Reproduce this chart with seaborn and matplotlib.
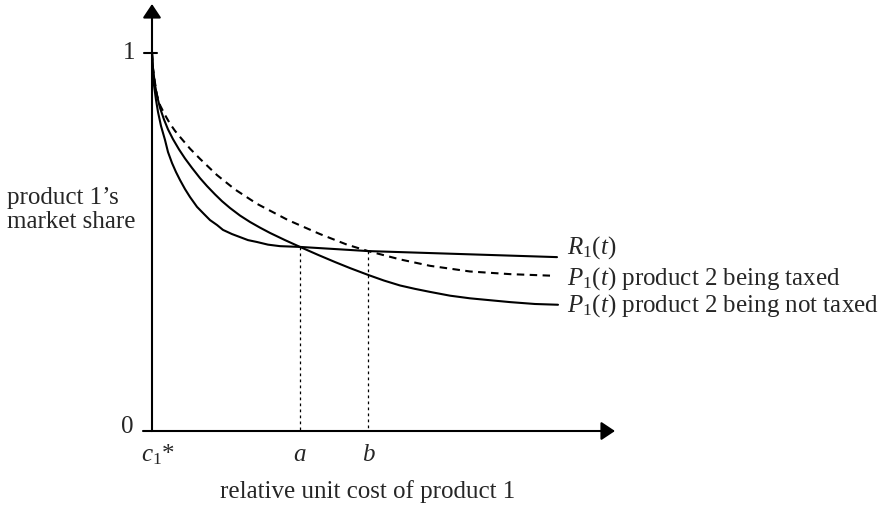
import numpy as np
import pandas as pd
import matplotlib
matplotlib.use("Agg")
import matplotlib.pyplot as plt
import seaborn as sns

# relative unit cost of product 1 (c1* at 0) and market shares
r1_x = [0, 0.01, 0.02, 0.04, 0.06, 0.09, 0.13, 0.16, 0.20, 0.24, 0.28, 0.33,
        0.38, 0.45, 0.52, 0.58, 0.65, 0.71, 0.80, 0.88, 0.96, 1.05, 1.16,
        1.28, 1.38, 1.48, 2.16, 4.05]
r1_y = [1.0, 0.955, 0.915, 0.876, 0.844, 0.807, 0.770, 0.738, 0.709, 0.685,
        0.664, 0.640, 0.619, 0.593, 0.574, 0.558, 0.545, 0.532, 0.521, 0.513,
        0.505, 0.500, 0.493, 0.489, 0.488, 0.487, 0.476, 0.460]

untaxed_x = [0, 0.01, 0.03, 0.05, 0.08, 0.12, 0.16, 0.21, 0.27, 0.33, 0.40,
             0.48, 0.55, 0.63, 0.70, 0.78, 0.88, 0.98, 1.08, 1.18, 1.33, 1.48,
             1.66, 1.83, 1.98, 2.16, 2.32, 2.48, 2.63, 2.78, 2.98, 3.18, 3.38,
             3.58, 3.83, 4.06]
untaxed_y = [1.0, 0.958, 0.916, 0.887, 0.855, 0.824, 0.798, 0.772, 0.745,
             0.721, 0.696, 0.669, 0.648, 0.626, 0.608, 0.590, 0.570, 0.553,
             0.538, 0.524, 0.505, 0.487, 0.466, 0.447, 0.431, 0.413, 0.398,
             0.385, 0.376, 0.368, 0.358, 0.351, 0.346, 0.341, 0.336, 0.334]

taxed_x = [0, 0.01, 0.03, 0.05, 0.08, 0.13, 0.18, 0.23, 0.28, 0.38, 0.48,
           0.65, 0.83, 1.05, 1.36, 1.68, 1.95, 2.16, 2.48, 2.78, 3.18, 3.58,
           3.98]
taxed_y = [1.0, 0.960, 0.921, 0.889, 0.862, 0.836, 0.813, 0.794, 0.778,
           0.747, 0.720, 0.677, 0.639, 0.601, 0.558, 0.521, 0.493, 0.476,
           0.454, 0.437, 0.422, 0.415, 0.411]

# crossing points a (R1 meets untaxed P1) and b (R1 meets taxed P1)
a_x, b_x = 1.48, 2.16
a_y, b_y = 0.487, 0.476

curve_labels = [r"$R_1(t)$",
                r"$P_1(t)$ product 2 being taxed",
                r"$P_1(t)$ product 2 being not taxed"]
label_y = [0.484, 0.402, 0.331]

sns.set_theme(style="white")
plt.rcParams["font.family"] = ["Liberation Serif", "DejaVu Serif"]
plt.rcParams["mathtext.fontset"] = "custom"
plt.rcParams["mathtext.rm"] = "Liberation Serif"
plt.rcParams["mathtext.it"] = "Liberation Serif:italic"
plt.rcParams["mathtext.bf"] = "Liberation Serif:bold"

W, H = 883, 508
fig = plt.figure(figsize=(W / 100, H / 100), dpi=100)
x0_px, y0_px = 152, 431
xmax, ymax = 4.68, (431 - 4) / 378
ax = fig.add_axes([x0_px / W, (H - y0_px) / H, xmax * 100 / W, (y0_px - 4) / H])
ax.set_xlim(0, xmax)
ax.set_ylim(0, ymax)
ax.axis("off")

df = pd.concat([
    pd.DataFrame({"x": r1_x, "y": r1_y, "curve": "R1"}),
    pd.DataFrame({"x": untaxed_x, "y": untaxed_y, "curve": "P1 untaxed"}),
    pd.DataFrame({"x": taxed_x, "y": taxed_y, "curve": "P1 taxed"}),
])
line_kw = dict(color="black", linewidth=1.5, sort=False, legend=False, ax=ax,
               estimator=None)
sns.lineplot(data=df[df.curve == "R1"], x="x", y="y", **line_kw)
sns.lineplot(data=df[df.curve == "P1 untaxed"], x="x", y="y", **line_kw)
sns.lineplot(data=df[df.curve == "P1 taxed"], x="x", y="y",
             linestyle=(0, (3.6, 2.6)), **line_kw)
for line in ax.lines:
    line.set_solid_joinstyle("round")
    line.set_dash_joinstyle("round")

# dotted drop lines at a and b
for xv, yv in [(a_x, a_y), (b_x, b_y)]:
    ax.plot([xv, xv], [yv, 0], color="black", lw=0.9,
            linestyle=(0, (2.2, 2.6)))

# axes with arrow heads
arrow_kw = dict(arrowstyle="-|>,head_length=0.6,head_width=0.4",
                color="black", lw=1.5, shrinkA=0, shrinkB=0,
                mutation_scale=14)
ax.annotate("", xy=(0, ymax), xytext=(0, 0), arrowprops=arrow_kw,
            annotation_clip=False)
ax.annotate("", xy=(4.63, 0), xytext=(-0.005, 0), arrowprops=arrow_kw,
            annotation_clip=False)
ax.plot([-0.08, 0.05], [1, 1], color="black", lw=1.5, clip_on=False)
ax.plot([-0.09, 0], [0, 0], color="black", lw=1.5, clip_on=False)

fs = 18
ax.text(-0.17, 1.0, "1", fontsize=fs, ha="right", va="center")
ax.text(-0.19, 0.01, "0", fontsize=fs, ha="right", va="center")
ax.text(0.06, -0.063, r"$c_{\mathit{1}}$*", fontsize=fs, ha="center",
        va="center")
ax.text(a_x, -0.063, "a", fontsize=fs, ha="center", va="center",
        style="italic")
ax.text(b_x, -0.063, "b", fontsize=fs, ha="center", va="center",
        style="italic")
ax.text(2.16, -0.161, "relative unit cost of product 1", fontsize=fs,
        ha="center", va="center")
ax.text(-1.45, 0.585, "product 1\u2019s\nmarket share", fontsize=fs,
        ha="left", va="center", linespacing=1.1)

for lab, yv in zip(curve_labels, label_y):
    ax.text(4.15, yv, lab, fontsize=fs, ha="left", va="center")

fig.savefig("out.png", dpi=100)
